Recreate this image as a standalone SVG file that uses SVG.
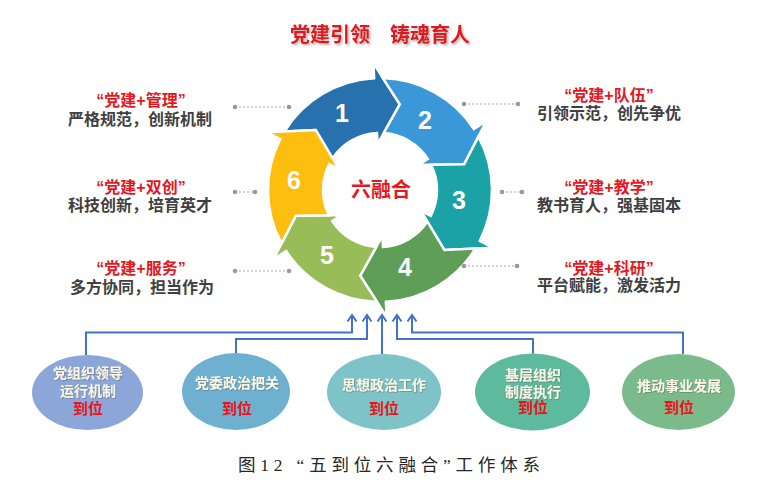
<svg xmlns="http://www.w3.org/2000/svg" xmlns:xlink="http://www.w3.org/1999/xlink" width="760" height="484" viewBox="0 0 760 484">
<style>
.cjk{font-family:"Liberation Sans","Noto Sans CJK SC",sans-serif;font-weight:bold;text-anchor:middle}
.red{fill:#E3191F}
.gray{fill:#404040}
.lbl{font-size:16px}
.num{font-family:"Liberation Sans","Noto Sans",sans-serif;font-weight:bold;font-size:25px;fill:#FFFFFF;text-anchor:middle}
.seg{stroke:#FFFFFF;stroke-width:2.5;stroke-linejoin:miter}
.dot{stroke:#A6A6A6;stroke-width:1.2;stroke-dasharray:2 2;fill:none}
.dotc{fill:#999999}
.ell{font-size:14px;fill:#FBF7E6}
.dw{font-size:15px;fill:#E8141C}
.conn{fill:none;stroke:#4472C4;stroke-width:2;marker-end:url(#arr)}
</style>
<defs>
<path id="segp" d="M -92.29,-63.43 A 112 112 0 0 1 0,-112 L 0,-127 L 24.26,-84.59 L 0,-46 L 0,-57 A 57 57 0 0 0 -45.69,-34.08 L -61.13,-63.30 Z"/>
<marker id="arr" viewBox="-8 -6 10 12" refX="0" refY="0" markerWidth="10" markerHeight="12" markerUnits="userSpaceOnUse" orient="auto" overflow="visible">
<path d="M -6.5,-4.5 L 0,0 L -6.5,4.5" fill="none" stroke="#4472C4" stroke-width="2"/>
</marker>
<filter id="sh" x="-10%" y="-30%" width="120%" height="160%">
<feDropShadow dx="1.5" dy="1.5" stdDeviation="0.8" flood-color="#777777" flood-opacity="0.6"/>
</filter>
<filter id="sh2" x="-10%" y="-30%" width="120%" height="160%">
<feDropShadow dx="0.8" dy="0.8" stdDeviation="0.5" flood-color="#555555" flood-opacity="0.5"/>
</filter>
</defs>
<rect width="760" height="484" fill="#FFFFFF"/>

<g id="title">
<text class="cjk red" x="380" y="42" font-size="20" filter="url(#sh)">党建引领　铸魂育人</text>
</g>

<g id="cycle" transform="translate(380,190)">
<g id="seg1"><use xlink:href="#segp" href="#segp" class="seg" fill="#2771AE" transform="rotate(-3)"/></g>
<g id="seg2"><use xlink:href="#segp" href="#segp" class="seg" fill="#3A97D8" transform="rotate(57)"/></g>
<g id="seg3"><use xlink:href="#segp" href="#segp" class="seg" fill="#1BA2A6" transform="rotate(117)"/></g>
<g id="seg4"><use xlink:href="#segp" href="#segp" class="seg" fill="#5E9E56" transform="rotate(177)"/></g>
<g id="seg5"><use xlink:href="#segp" href="#segp" class="seg" fill="#98BC58" transform="rotate(237)"/></g>
<g id="seg6"><use xlink:href="#segp" href="#segp" class="seg" fill="#FDBE0F" transform="rotate(297)"/></g>
</g>
<g id="numbers">
<text class="num" x="342" y="122">1</text>
<text class="num" x="425" y="129">2</text>
<text class="num" x="459" y="209">3</text>
<text class="num" x="405" y="276">4</text>
<text class="num" x="327" y="264">5</text>
<text class="num" x="294" y="189">6</text>
</g>
<g id="center">
<text class="cjk red" x="381" y="197" font-size="20">六融合</text>
</g>

<g id="label-guanli">
<text class="cjk red lbl" x="141" y="106">“党建+管理”</text>
<text class="cjk gray lbl" x="140" y="125">严格规范，创新机制</text>
</g>
<g id="label-shuangchuang">
<text class="cjk red lbl" x="141" y="193">“党建+双创”</text>
<text class="cjk gray lbl" x="140" y="211">科技创新，培育英才</text>
</g>
<g id="label-fuwu">
<text class="cjk red lbl" x="141" y="274">“党建+服务”</text>
<text class="cjk gray lbl" x="142" y="293">多方协同，担当作为</text>
</g>
<g id="label-duiwu">
<text class="cjk red lbl" x="609" y="101">“党建+队伍”</text>
<text class="cjk gray lbl" x="609" y="119">引领示范，创先争优</text>
</g>
<g id="label-jiaoxue">
<text class="cjk red lbl" x="609" y="193">“党建+教学”</text>
<text class="cjk gray lbl" x="609" y="211">教书育人，强基固本</text>
</g>
<g id="label-keyan">
<text class="cjk red lbl" x="609" y="274">“党建+科研”</text>
<text class="cjk gray lbl" x="609" y="291">平台赋能，激发活力</text>
</g>

<g id="node-e1">
<ellipse cx="87.5" cy="392.5" rx="55.5" ry="37.5" fill="#8CA6DA"/>
<text class="cjk ell" x="88" y="378" filter="url(#sh2)">党组织领导</text>
<text class="cjk ell" x="88" y="396" filter="url(#sh2)">运行机制</text>
<text class="cjk dw" x="88" y="414">到位</text>
</g>
<g id="node-e2">
<ellipse cx="236" cy="391.5" rx="54" ry="38.5" fill="#6EB0CF"/>
<text class="cjk ell" x="237" y="388" filter="url(#sh2)">党委政治把关</text>
<text class="cjk dw" x="237" y="414">到位</text>
</g>
<g id="node-e3">
<ellipse cx="384" cy="392" rx="57" ry="38" fill="#7DC3C8"/>
<text class="cjk ell" x="384" y="390" filter="url(#sh2)">思想政治工作</text>
<text class="cjk dw" x="384" y="414">到位</text>
</g>
<g id="node-e4">
<ellipse cx="532.5" cy="392" rx="57.5" ry="38.5" fill="#5EBA9D"/>
<text class="cjk ell" x="533" y="380" filter="url(#sh2)">基层组织</text>
<text class="cjk ell" x="533" y="397" filter="url(#sh2)">制度执行</text>
<text class="cjk dw" x="533" y="413">到位</text>
</g>
<g id="node-e5">
<ellipse cx="678.5" cy="392" rx="56.5" ry="38" fill="#7BBB8B"/>
<text class="cjk ell" x="679" y="391" filter="url(#sh2)">推动事业发展</text>
<text class="cjk dw" x="679" y="413">到位</text>
</g>

<g id="connectors">
<line class="dot" x1="235" y1="107" x2="289" y2="107"/>
<circle class="dotc" cx="235" cy="107" r="2.3"/><circle class="dotc" cx="289" cy="107" r="2.3"/>
<line class="dot" x1="235" y1="192" x2="255" y2="192"/>
<circle class="dotc" cx="235" cy="192" r="2.3"/><circle class="dotc" cx="255" cy="192" r="2.3"/>
<line class="dot" x1="235" y1="271" x2="289" y2="271"/>
<circle class="dotc" cx="235" cy="271" r="2.3"/><circle class="dotc" cx="289" cy="271" r="2.3"/>
<line class="dot" x1="464" y1="104" x2="518" y2="104"/>
<circle class="dotc" cx="464" cy="104" r="2.3"/><circle class="dotc" cx="518" cy="104" r="2.3"/>
<line class="dot" x1="502" y1="192" x2="522" y2="192"/>
<circle class="dotc" cx="502" cy="192" r="2.3"/><circle class="dotc" cx="522" cy="192" r="2.3"/>
<line class="dot" x1="464" y1="266" x2="517" y2="266"/>
<circle class="dotc" cx="464" cy="266" r="2.3"/><circle class="dotc" cx="517" cy="266" r="2.3"/>

<path class="conn" d="M 86,355 V 332.5 H 352 V 315"/>
<path class="conn" d="M 236,353 V 339 H 367 V 315"/>
<path class="conn" d="M 382,354 V 315"/>
<path class="conn" d="M 533,353.5 V 339 H 397 V 315"/>
<path class="conn" d="M 683,354 V 332.5 H 412 V 315"/>
</g>

<g id="caption">
<text x="238" y="471" font-family="'Liberation Serif','Noto Sans CJK SC',serif" font-size="17.5" fill="#262626" textLength="302" lengthAdjust="spacing">图12 “五到位六融合”工作体系</text>
</g>
</svg>
